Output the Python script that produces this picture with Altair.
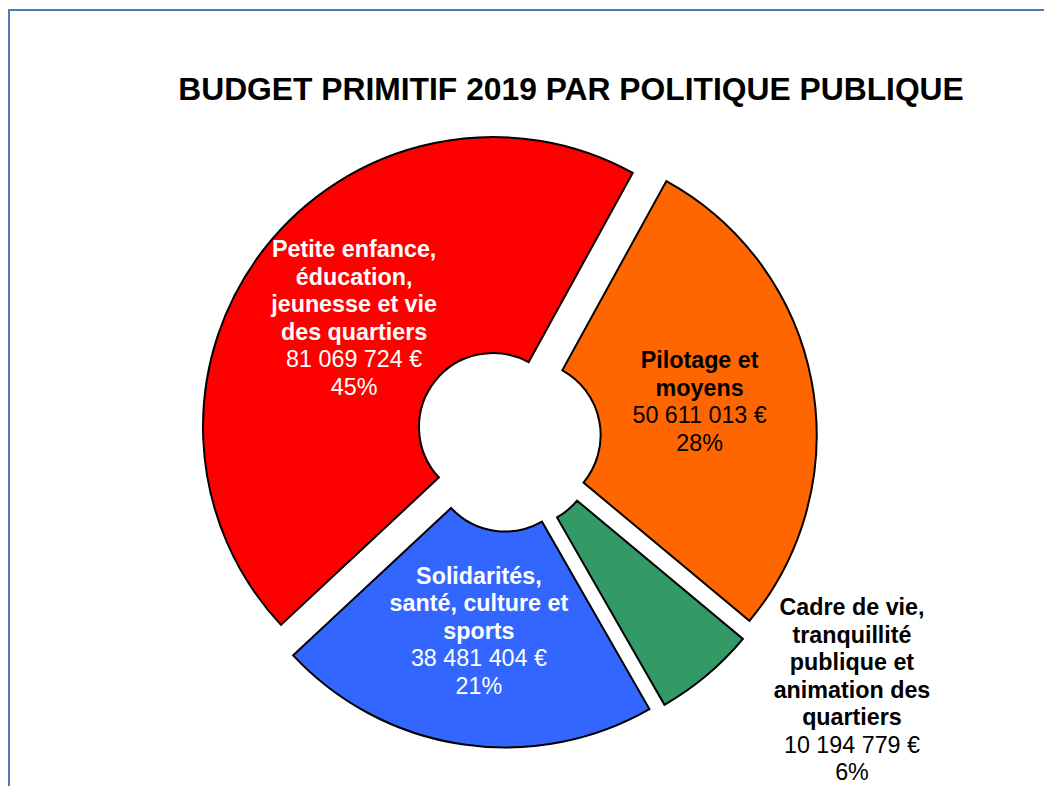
import altair as alt
import pandas as pd

# ---- data ----
title_text = "BUDGET PRIMITIF 2019 PAR POLITIQUE PUBLIQUE"
categories = [
    "Pilotage et moyens",
    "Cadre de vie, tranquillité publique et animation des quartiers",
    "Solidarités, santé, culture et sports",
    "Petite enfance, éducation, jeunesse et vie des quartiers",
]
values = [50611013, 10194779, 38481404, 81069724]
name_lines = [
    ["Pilotage et", "moyens"],
    ["Cadre de vie,", "tranquillité", "publique et", "animation des", "quartiers"],
    ["Solidarités,", "santé, culture et", "sports"],
    ["Petite enfance,", "éducation,", "jeunesse et vie", "des quartiers"],
]
slice_colors = ["#FF6600", "#339966", "#3366FF", "#FF0000"]
white_text_cats = [categories[2], categories[3]]

total = sum(values)
rows = []
for i, (c, v, nl) in enumerate(zip(categories, values, name_lines)):
    vtxt = f"{v:,}".replace(",", " ") + " €"
    ptxt = f"{round(100 * v / total)}%"
    lines = nl + [vtxt, ptxt]
    rows.append({
        "cat": c,
        "value": v,
        "order": i,
        "lines": lines,
        "li": list(range(len(lines))),
        "bold": [1] * len(nl) + [0, 0],
    })
df = pd.DataFrame(rows)

# ---- style / geometry ----
W, H = 1036, 778
CX, CY = 500, 430.7
EXPLODE = 19
R_OUT, R_IN = 290, 74
START = 28.8  # degrees
LH = 27.5
FONT = "Liberation Sans"
FS = 23.3

base = (
    alt.Chart(df)
    .transform_joinaggregate(total="sum(value)")
    .transform_window(cum="sum(value)", sort=[alt.SortField("order")], frame=[None, 0])
    .transform_calculate(t1=f"{START}*PI/180 + 2*PI*(datum.cum - datum.value)/datum.total")
    .transform_calculate(t2=f"{START}*PI/180 + 2*PI*datum.cum/datum.total")
    .transform_calculate(mid="(datum.t1 + datum.t2)/2")
    .transform_calculate(px=f"{CX} + {EXPLODE}*sin(datum.mid)")
    .transform_calculate(py=f"{CY} - {EXPLODE}*cos(datum.mid)")
    .transform_calculate(frac="datum.value/datum.total")
)

arcs = base.mark_arc(
    outerRadius=R_OUT, innerRadius=R_IN, stroke="black", strokeWidth=2
).encode(
    theta=alt.Theta("t1:Q", scale=None, stack=None),
    theta2="t2:Q",
    x=alt.X("px:Q", scale=None, axis=None),
    y=alt.Y("py:Q", scale=None, axis=None),
    color=alt.Color("cat:N", scale=alt.Scale(domain=categories, range=slice_colors), legend=None),
)

lab = (
    base.transform_calculate(nl="length(datum.lines)")
    .transform_flatten(["lines", "li", "bold"])
    .transform_calculate(lr="datum.frac < 0.1 ? 408 : 176")
    .transform_calculate(la="datum.frac < 0.1 ? datum.mid - 14.4*PI/180 : datum.mid")
    .transform_calculate(lx="datum.px + datum.lr*sin(datum.la)")
    .transform_calculate(ly=f"datum.py - datum.lr*cos(datum.la) + (datum.li - (datum.nl - 1)/2)*{LH}")
)

text_color = alt.condition(
    alt.FieldOneOfPredicate(field="cat", oneOf=white_text_cats),
    alt.value("white"),
    alt.value("black"),
)

bold_txt = lab.transform_filter("datum.bold == 1").mark_text(
    font=FONT, fontSize=FS, fontWeight="bold", align="center", baseline="middle"
).encode(
    x=alt.X("lx:Q", scale=None, axis=None),
    y=alt.Y("ly:Q", scale=None, axis=None),
    text="lines:N",
    color=text_color,
)

reg_txt = lab.transform_filter("datum.bold == 0").mark_text(
    font=FONT, fontSize=FS, fontWeight="normal", align="center", baseline="middle"
).encode(
    x=alt.X("lx:Q", scale=None, axis=None),
    y=alt.Y("ly:Q", scale=None, axis=None),
    text="lines:N",
    color=text_color,
)

title = alt.Chart(pd.DataFrame({"t": [title_text]})).mark_text(
    font=FONT, fontSize=31.8, fontWeight="bold", align="center", baseline="alphabetic", color="black"
).encode(x=alt.value(563), y=alt.value(92), text="t:N")

frame_top = alt.Chart(pd.DataFrame({"a": [0]})).mark_rule(color="#4A7EBB", strokeWidth=2).encode(
    x=alt.value(0), x2=alt.value(W), y=alt.value(2)
)
frame_left = alt.Chart(pd.DataFrame({"a": [0]})).mark_rule(color="#4A7EBB", strokeWidth=2).encode(
    x=alt.value(1), y=alt.value(2), y2=alt.value(H)
)

chart = alt.layer(frame_top, frame_left, arcs, bold_txt, reg_txt, title).properties(
    width=W, height=H, padding=0, autosize="none"
).configure_view(stroke=None)

chart.save("out.html", embed_options={"renderer": "svg", "actions": False})
